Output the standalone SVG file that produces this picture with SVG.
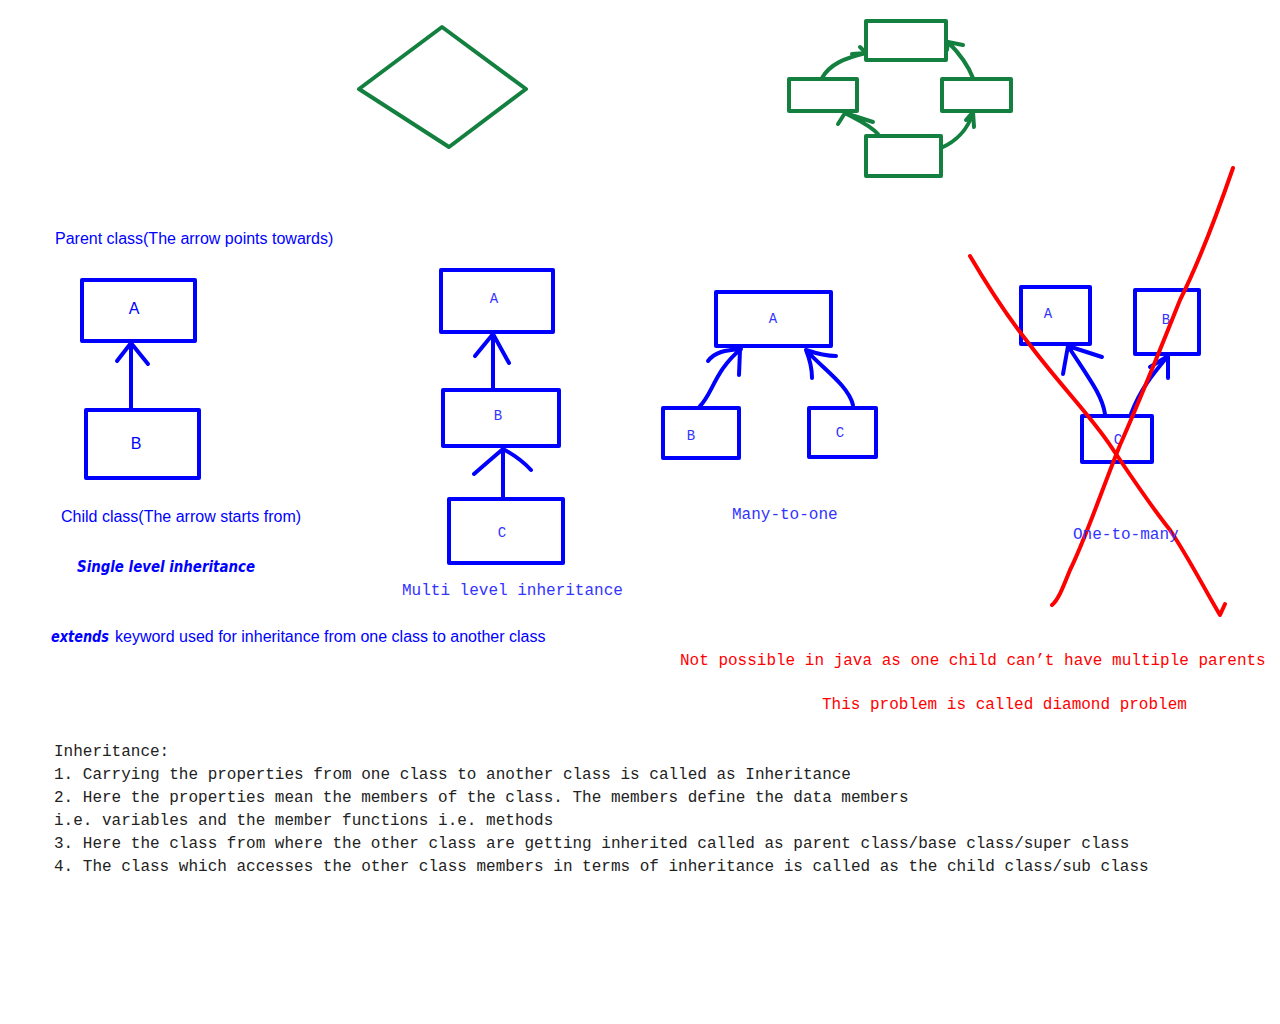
<svg xmlns="http://www.w3.org/2000/svg" width="1280" height="1024" viewBox="0 0 1280 1024">
<style>
.g{fill:none;stroke:#138040;stroke-width:4;stroke-linecap:round;stroke-linejoin:round}
.b{fill:none;stroke:#0000ff;stroke-width:4;stroke-linecap:round;stroke-linejoin:round}
.r{fill:none;stroke:#ff0000;stroke-width:4;stroke-linecap:round;stroke-linejoin:round}
.sans{font-family:"Liberation Sans",Arial,sans-serif;font-size:16px;fill:#0000ff}
.mono{font-family:"Liberation Mono","Courier New",monospace;font-size:16px;fill:#3333ff}
.lbl{font-family:"Liberation Mono","Courier New",monospace;font-size:14px;fill:#3333ff;text-anchor:middle}
.slbl{font-family:"Liberation Sans",Arial,sans-serif;font-size:16px;fill:#0000ff;text-anchor:middle}
.red{font-family:"Liberation Mono","Courier New",monospace;font-size:16px;fill:#ff0000}
.body{font-family:"Liberation Mono","Courier New",monospace;font-size:16px;fill:#222222}
.bi{font-family:"DejaVu Sans","Liberation Sans",sans-serif;font-weight:bold;font-style:italic;fill:#0000ff}
</style>
<rect width="1280" height="1024" fill="#ffffff"/>

<g id="diamond"><polygon class="g" points="442,27 526,89 449,147 359,89"/></g>

<g id="cycle-top"><rect class="g" x="866" y="21" width="80" height="39"/></g>
<g id="cycle-left"><rect class="g" x="789" y="79" width="68" height="32"/></g>
<g id="cycle-right"><rect class="g" x="942" y="79" width="69" height="32"/></g>
<g id="cycle-bottom"><rect class="g" x="866" y="136" width="75" height="40"/></g>

<g id="single-A"><rect class="b" x="82" y="280" width="113" height="61"/><text class="slbl" x="134" y="314">A</text></g>
<g id="single-B"><rect class="b" x="86" y="410" width="113" height="68"/><text class="slbl" x="136" y="449">B</text></g>

<g id="multi-A"><rect class="b" x="441" y="270" width="112" height="62"/><text class="lbl" x="494" y="303">A</text></g>
<g id="multi-B"><rect class="b" x="443" y="390" width="116" height="56"/><text class="lbl" x="498" y="420">B</text></g>
<g id="multi-C"><rect class="b" x="449" y="499" width="114" height="64"/><text class="lbl" x="502" y="537">C</text></g>

<g id="many-A"><rect class="b" x="716" y="292" width="115" height="54"/><text class="lbl" x="773" y="323">A</text></g>
<g id="many-B"><rect class="b" x="663" y="408" width="76" height="50"/><text class="lbl" x="691" y="440">B</text></g>
<g id="many-C"><rect class="b" x="809" y="408" width="67" height="49"/><text class="lbl" x="840" y="437">C</text></g>

<g id="one-A"><rect class="b" x="1021" y="287" width="69" height="57"/><text class="lbl" x="1048" y="318">A</text></g>
<g id="one-B"><rect class="b" x="1135" y="290" width="64" height="64"/><text class="lbl" x="1166" y="324">B</text></g>
<g id="one-C"><rect class="b" x="1082" y="416" width="70" height="46"/><text class="lbl" x="1118" y="444">C</text></g>

<g id="connectors">
<path class="g" d="M822,78 C830,64 845,58 866,53 M852,54 L866,53 L860,47"/>
<path class="g" d="M973,78 C968,65 958,52 948,42 M948,42 L963,45 M948,42 L947,50"/>
<path class="g" d="M941,148 C955,142 968,130 973,112 M973,112 L974,127 M973,112 L966,120"/>
<path class="g" d="M878,134 C870,125 858,120 845,113 M845,113 L838,124 M845,113 L873,122"/>

<path class="b" d="M131,410 L131,343 M131,343 L117,361 M131,343 L148,364"/>
<path class="b" d="M493,390 L493,334 M493,334 L475,356 M493,334 L509,363"/>
<path class="b" d="M503,499 L503,449 M503,449 Q490,460 474,474 M503,449 Q520,458 531,470"/>
<path class="b" d="M700,406 C712,395 715,370 741,349 M741,349 C725,350 715,352 708,361 M740,350 L739,375"/>
<path class="b" d="M853,405 C848,385 822,368 806,350 M806,350 C818,354 828,356 836,356 M806,350 C810,360 812,368 812,378"/>
<path class="b" d="M1105,414 C1102,395 1090,380 1068,346 M1068,346 L1102,357 M1068,346 L1063,374"/>
<path class="b" d="M1131,414 C1140,390 1152,375 1168,356 M1168,356 L1168,378 M1168,356 L1150,367"/>
</g>

<g id="cross">
<path class="r" d="M970,256 C990,290 1010,320 1030,345 C1060,385 1090,415 1110,445 C1130,475 1150,505 1170,530 C1190,560 1205,590 1220,615 L1225,604"/>
<path class="r" d="M1233,168 C1215,220 1195,270 1180,300 C1160,350 1140,400 1120,445 C1100,495 1085,540 1070,570 C1062,590 1058,600 1052,605"/>
</g>

<text class="sans" x="55" y="244">Parent class(The arrow points towards)</text>
<text class="sans" x="61" y="522">Child class(The arrow starts from)</text>
<text class="bi" x="77" y="572" font-size="15" textLength="178" lengthAdjust="spacingAndGlyphs">Single level inheritance</text>
<text class="mono" x="402" y="595">Multi level inheritance</text>
<text class="mono" x="732" y="519">Many-to-one</text>
<text class="mono" x="1073" y="539">One-to-many</text>
<text class="bi" x="51" y="642" font-size="15" textLength="58" lengthAdjust="spacingAndGlyphs">extends</text>
<text class="sans" x="115" y="642">keyword used for inheritance from one class to another class</text>
<text class="red" x="680" y="665">Not possible in java as one child can’t have multiple parents</text>
<text class="red" x="822" y="709">This problem is called diamond problem</text>

<g class="body">
<text x="54" y="756">Inheritance:</text>
<text x="54" y="779">1. Carrying the properties from one class to another class is called as Inheritance</text>
<text x="54" y="802">2. Here the properties mean the members of the class. The members define the data members</text>
<text x="54" y="825">i.e. variables and the member functions i.e. methods</text>
<text x="54" y="848">3. Here the class from where the other class are getting inherited called as parent class/base class/super class</text>
<text x="54" y="871">4. The class which accesses the other class members in terms of inheritance is called as the child class/sub class</text>
</g>
</svg>
